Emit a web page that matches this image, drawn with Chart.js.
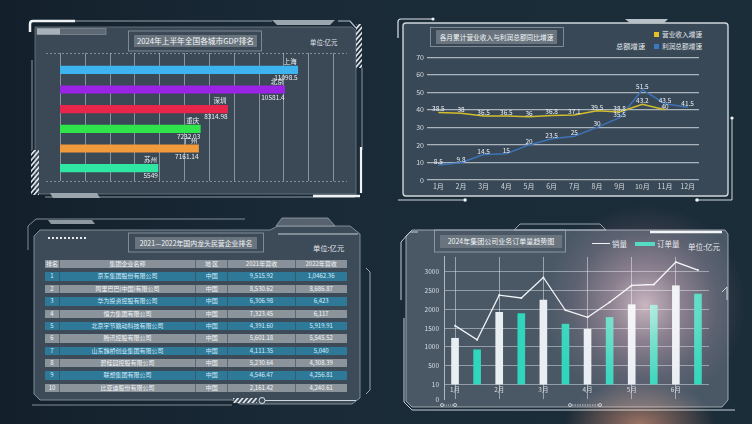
<!DOCTYPE html>
<html>
<head>
<meta charset="utf-8">
<script src="https://cdn.jsdelivr.net/npm/chart.js@4.4.1/dist/chart.umd.min.js"></script>
<style>
  html, body { margin: 0; padding: 0; }
  body {
    width: 752px; height: 424px; overflow: hidden; position: relative;
    background: linear-gradient(90deg, #13202b 0%, #1a2a37 40%, #1c2d3a 100%);
    font-family: "Noto Sans CJK SC", "Noto Sans", sans-serif; color: #e6ecf0;
  }
  .abs { position: absolute; }
  canvas { position: absolute; }
  .title { position: absolute; background: #69747e; color: #f3f6f8; text-align: center; white-space: nowrap; }
  .txt { position: absolute; white-space: nowrap; color: #e3e8ec; }
  .row { position: absolute; left: 45px; width: 302px; display: flex; font-size: 6px; }
  .row div { box-sizing: border-box; text-align: center; border-right: 1px solid rgba(55,70,84,0.55); overflow: hidden; white-space: nowrap; }
  .row div:last-child { border-right: none; }
  #glow {
    position: absolute; left: 0; top: 0; width: 752px; height: 424px; pointer-events: none; mix-blend-mode: screen;
    background:
      radial-gradient(circle at 645px 305px, rgba(255,205,215,0.7) 0px, rgba(220,145,165,0.42) 36px, rgba(170,95,115,0.16) 72px, rgba(0,0,0,0) 100px),
      radial-gradient(ellipse 75px 42px at 640px 424px, rgba(220,130,85,0.65), rgba(0,0,0,0));
  }
</style>
</head>
<body>

<svg class="abs" width="752" height="424" style="left:0;top:0">
  <defs>
    <pattern id="hatch" width="3.5" height="3.5" patternUnits="userSpaceOnUse" patternTransform="rotate(40)">
      <rect width="1.6" height="3.5" fill="#e9eef2"/>
    </pattern>
  </defs>

  <!-- panel 1 frame -->
  <polygon points="35,27 352,27 356,31 356,194 40,194 35,189" fill="#3b4956" stroke="#6f7c87" stroke-width="0.8"/>
  <path d="M30,32 L30,24 Q30,21 33,21 L75,21" stroke="#eef2f5" stroke-width="2.5" fill="none"/>
  <line x1="75" y1="21" x2="272" y2="21" stroke="#9aa5ae" stroke-width="1"/>
  <polygon points="272,20 277,25 330,25 335,20" fill="#9ba5ae"/>
  <path d="M338,21 L350,21 L356,28" stroke="#b7c0c8" stroke-width="1.2" fill="none"/>
  <rect x="356" y="24" width="6" height="44" fill="url(#hatch)"/>
  <line x1="362" y1="68" x2="362" y2="150" stroke="#8e99a3" stroke-width="1"/>
  <line x1="361" y1="147" x2="361" y2="193" stroke="#f0f3f5" stroke-width="2.2"/>
  <line x1="45" y1="197" x2="355" y2="197" stroke="#8e99a3" stroke-width="1"/>
  <line x1="313" y1="196" x2="360" y2="196" stroke="#f0f3f5" stroke-width="2.5"/>
  <polygon points="50,193 97,193 100,198 53,198" fill="#9ba5ae"/>
  <rect x="31" y="150" width="8" height="45" fill="url(#hatch)"/>
  <line x1="32" y1="60" x2="32" y2="150" stroke="#8e99a3" stroke-width="1"/>
  <rect x="37" y="28.5" width="69" height="6" fill="#5d6873" stroke="#8e99a3" stroke-width="0.6"/>
  <rect x="37" y="28.5" width="23" height="6" fill="#a8b1b9"/>
  <rect x="128.5" y="31" width="133" height="20" fill="none" stroke="#8f9aa4" stroke-width="0.8"/>

  <!-- panel 2 frame -->
  <rect x="403" y="23" width="325" height="173" rx="3" fill="#394856" stroke="#cfd6dc" stroke-width="1.4"/>
  <path d="M398,38 L398,22 Q398,19 401,19 L432,19" stroke="#dfe5ea" stroke-width="1.2" fill="none"/>
  <circle cx="433" cy="19" r="1.6" fill="#eef2f5"/>
  <polygon points="625,19 630,23 664,23 668,19" fill="#b8c1c8"/>
  <line x1="398" y1="200" x2="463" y2="200" stroke="#cfd6dc" stroke-width="1"/>
  <circle cx="465" cy="200" r="1.8" fill="#f3f6f8"/>
  <line x1="697" y1="200" x2="732" y2="200" stroke="#cfd6dc" stroke-width="1"/>
  <circle cx="697" cy="200" r="1.8" fill="#f3f6f8"/>
  <line x1="732" y1="118" x2="732" y2="200" stroke="#cfd6dc" stroke-width="1"/>
  <circle cx="732" cy="118" r="1.6" fill="#f3f6f8"/>
  <rect x="430.5" y="27.5" width="133" height="19" fill="none" stroke="#8f9aa4" stroke-width="0.8"/>

  <!-- panel 3 frame -->
  <polygon points="40,230 270,230 278,226 350,226 360,234 360,398 352,404 240,404 232,400 40,400 34,394 34,236" fill="#3d4b58" stroke="#8b96a0" stroke-width="0.9"/>
  <polygon points="48,220 92,220 95,224 51,224" fill="#8d98a1"/>
  <path d="M28,250 L28,226 L36,219 L245,219" stroke="#8e99a3" stroke-width="0.9" fill="none"/>
  <polygon points="282,218 328,218 335,226 276,226" fill="#56626d" stroke="#9aa5ae" stroke-width="0.8"/>
  <line x1="278" y1="234" x2="358" y2="234" stroke="#d4dbe0" stroke-width="0.9"/>
  <path d="M366,268 L370,272 L370,390 L366,394" stroke="#9aa5ae" stroke-width="1" fill="none"/>
  <line x1="32" y1="405" x2="232" y2="405" stroke="#8e99a3" stroke-width="0.9"/>
  <rect x="233" y="398" width="24" height="5" fill="url(#hatch)"/>
  <circle cx="262" cy="400.5" r="3" fill="none" stroke="#dfe5ea" stroke-width="1"/>
  <line x1="265" y1="400.5" x2="356" y2="400.5" stroke="#cfd6dc" stroke-width="1"/>
  <g fill="#e6ebef">
    <rect x="48" y="237" width="2" height="2"/><rect x="52" y="237" width="2" height="2"/><rect x="56" y="237" width="2" height="2"/>
    <rect x="60" y="237" width="2" height="2"/><rect x="64" y="237" width="2" height="2"/><rect x="68" y="237" width="2" height="2"/>
    <rect x="72" y="237" width="2" height="2"/><rect x="76" y="237" width="2" height="2"/><rect x="80" y="237" width="2" height="2"/>
    <rect x="84" y="237" width="2" height="2"/>
  </g>
  <rect x="128.5" y="233" width="135" height="19" fill="none" stroke="#8f9aa4" stroke-width="0.8"/>

  <!-- panel 4 frame -->
  <polygon points="412,230 725,230 728,234 728,400 722,407 412,407 406,401 406,236" fill="#4a5866" stroke="#a9b3bb" stroke-width="0.9"/>
  <path d="M401,300 L401,242 L410,232 L418,232" stroke="#c6ced5" stroke-width="1" fill="none"/>
  <path d="M404,318 L404,402 L412,410 L735,410" stroke="#c6ced5" stroke-width="1" fill="none"/>
  <line x1="650" y1="232" x2="722" y2="232" stroke="#f2f5f7" stroke-width="2.4"/>
  <polygon points="520,224 600,224 606,230 514,230" fill="none" stroke="#b9c2c9" stroke-width="0.8"/>
  <g fill="none" stroke="#dfe5ea" stroke-width="0.8">
    <circle cx="442" cy="405" r="1.5"/><circle cx="455" cy="405" r="1.5"/>
    <circle cx="570" cy="405" r="1.5"/><circle cx="600" cy="405" r="1.5"/>
  </g>
  <line x1="444" y1="405" x2="453" y2="405" stroke="#dfe5ea" stroke-width="0.8" stroke-dasharray="1,1"/>
  <line x1="572" y1="405" x2="598" y2="405" stroke="#dfe5ea" stroke-width="0.8" stroke-dasharray="1.5,1"/>
  <path d="M722,292 L727,287 L727,300" stroke="#c6ced5" stroke-width="1" fill="none"/>
  <rect x="434.5" y="230" width="131" height="22" fill="none" stroke="#9aa5ae" stroke-width="0.8"/>
</svg>

<!-- titles and units -->
<div class="title" style="left:134px;top:35px;width:123px;height:12px;font-size:7.7px;line-height:12px;">2024年上半年全国各城市GDP排名</div>
<div class="txt" style="left:310px;top:38px;font-size:6.4px;line-height:9px;">单位:亿元</div>

<div class="title" style="left:436px;top:30px;width:121px;height:14px;font-size:6.7px;line-height:14px;">各月累计营业收入与利润总额同比增速</div>
<div class="abs" style="left:654px;top:31.5px;width:5px;height:5px;background:#e2c22b;"></div>
<div class="txt" style="left:662px;top:29.5px;font-size:6.7px;line-height:9px;">营业收入增速</div>
<div class="txt" style="left:616px;top:41.5px;font-size:7.3px;line-height:9px;">总额增速</div>
<div class="abs" style="left:654px;top:43.5px;width:5px;height:5px;background:#3a78c4;"></div>
<div class="txt" style="left:662px;top:41.5px;font-size:6.7px;line-height:9px;">利润总额增速</div>

<div class="title" style="left:135px;top:236.5px;width:122px;height:12.5px;font-size:6.9px;line-height:12.5px;">2021—2022年国内龙头民营企业排名</div>
<div class="txt" style="left:313px;top:243px;font-size:7.3px;line-height:10px;">单位:亿元</div>

<div class="title" style="left:440px;top:235px;width:122px;height:13px;font-size:7px;line-height:13px;">2024年集团公司业务订单量趋势图</div>
<div class="abs" style="left:592px;top:242.5px;width:18px;height:1.6px;background:#f0f3f5;"></div>
<div class="txt" style="left:612px;top:238.5px;font-size:7.5px;line-height:10px;">销量</div>
<div class="abs" style="left:635px;top:241.5px;width:20px;height:4px;background:#2fd6bc;"></div>
<div class="txt" style="left:657px;top:238.5px;font-size:7.5px;line-height:10px;">订单量</div>
<div class="txt" style="left:688px;top:241.5px;font-size:7.5px;line-height:10px;">单位:亿元</div>

<div id="table"></div>

<canvas id="gdp" width="320" height="145" style="left:36px;top:45px;"></canvas>
<canvas id="growth" width="320" height="146" style="left:405px;top:50px;"></canvas>
<canvas id="orders" width="305" height="160" style="left:410px;top:248px;"></canvas>

<div id="glow"></div>

<script>
// ---------- data ----------
const gdpCities = ['上海', '北京', '深圳', '重庆', '广州', '苏州'];
const gdpValues = [11098.5, 10581.4, 8314.98, 7232.03, 7161.14, 5549];
const gdpColors = ['#3db4ef', '#9a23e6', '#e8264c', '#30e44c', '#f19a3c', '#2fe6a2'];

const growthMonths = ['1月', '2月', '3月', '4月', '5月', '6月', '7月', '8月', '9月', '10月', '11月', '12月'];
const revenueGrowth = [38.5, 38, 36.5, 36.5, 36, 36.8, 37.1, 39.5, 38.8, 43.2, 40, null];
const profitGrowth = [8.5, 9.8, 14.5, 15, 20, 23.5, 25, 30, 35.5, 51.5, 43.5, 41.5];

const tableHeader = ['排名', '集团企业名称', '地 区', '2021年营收', '2022年营收'];
const rankNo = ['1', '2', '3', '4', '5', '6', '7', '8', '9', '10'];
const companyNames = ['京东集团股份有限公司', '阿里巴巴(中国)有限公司', '华为投资控股有限公司', '恒力集团有限公司',
  '北京字节跳动科技有限公司', '腾讯控股有限公司', '山东魏桥创业集团有限公司', '碧桂园控股有限公司',
  '联想集团有限公司', '比亚迪股份有限公司'];
const regions = ['中国', '中国', '中国', '中国', '中国', '中国', '中国', '中国', '中国', '中国'];
const revenue2021 = ['9,515.92', '8,530.62', '6,306.98', '7,323.45', '4,391.60', '5,601.18', '4,111.35', '5,230.64', '4,546.47', '2,161.42'];
const revenue2022 = ['1,0462.36', '8,686.87', '6,423', '6,117', '5,919.91', '5,545.52', '5,040', '4,308.39', '4,256.81', '4,240.61'];

const orderMonths = ['1月', '2月', '3月', '4月', '5月', '6月'];
const salesBars = [1230, 1918, 2242, 1469, 2122, 2625];
const orderBars = [923, 1885, 1605, 1783, 2107, 2403];
const salesLine = [1565, 1189, 2376, 2299, 2844, 1974, 1788, 2187, 2632, 2657, 3253, 3041];
const orderTicks = [-385, 0, 500, 1000, 1500, 2000, 2500, 3000];
const orderTickLabels = ['0', '10', '500', '1000', '1500', '2000', '2500', '3000'];

const FONT = '"Noto Sans CJK SC", "Noto Sans", sans-serif';
Chart.defaults.font.family = FONT;
Chart.defaults.animation = false;
Chart.defaults.responsive = false;
Chart.defaults.plugins.legend.display = false;
Chart.defaults.plugins.tooltip.enabled = false;

// ---------- table ----------
(function buildTable() {
  const box = document.getElementById('table');
  const widths = [15, 136, 32.3, 67.4, 51];
  function addRow(cells, top, bg, color) {
    const row = document.createElement('div');
    row.className = 'row';
    row.style.top = top + 'px';
    row.style.height = '8.5px';
    row.style.lineHeight = '8.5px';
    row.style.background = bg;
    row.style.color = color;
    cells.forEach((c, i) => {
      const d = document.createElement('div');
      d.style.width = widths[i] + 'px';
      d.textContent = c;
      row.appendChild(d);
    });
    box.appendChild(row);
  }
  addRow(tableHeader, 259.8, '#88919a', '#f1f4f6');
  rankNo.forEach((r, i) => {
    const teal = i % 2 === 0;
    addRow([r, companyNames[i], regions[i], revenue2021[i], revenue2022[i]],
      272.4 + i * 12.37, teal ? '#2e7898' : '#8b949b', teal ? '#d6eefa' : '#f4f6f8');
  });
})();

// ---------- chart 1 : GDP ranking ----------
const gdpDecor = {
  id: 'gdpDecor',
  beforeDatasetsDraw(chart) {
    const { ctx, chartArea: a, scales: { x } } = chart;
    ctx.save();
    ctx.strokeStyle = 'rgba(200,208,216,0.55)';
    ctx.lineWidth = 1;
    for (let i = 0; i <= 11; i++) {
      const px = Math.round(x.getPixelForValue(x.min + i * (x.max - x.min) / 11)) + 0.5;
      ctx.beginPath(); ctx.moveTo(px, a.top - 7); ctx.lineTo(px, a.bottom + 3); ctx.stroke();
    }
    ctx.setLineDash([2, 2]);
    ctx.strokeStyle = 'rgba(200,208,216,0.5)';
    [a.top - 7, a.bottom + 3].forEach(py => {
      ctx.beginPath(); ctx.moveTo(a.left - 14, py + 0.5); ctx.lineTo(a.right + 14, py + 0.5); ctx.stroke();
    });
    ctx.restore();
  },
  afterDatasetsDraw(chart) {
    const { ctx } = chart;
    ctx.save();
    ctx.font = '6.5px ' + FONT;
    ctx.fillStyle = '#eef2f5';
    ctx.textAlign = 'right';
    ctx.textBaseline = 'middle';
    chart.getDatasetMeta(0).data.forEach((bar, i) => {
      ctx.fillText(gdpCities[i], bar.x - 1, bar.y - 8.3);
      ctx.fillText(String(gdpValues[i]), bar.x, bar.y + 7.7);
    });
    ctx.restore();
  }
};

new Chart(document.getElementById('gdp'), {
  type: 'bar',
  data: {
    labels: gdpCities,
    datasets: [{ data: gdpValues, backgroundColor: gdpColors, barThickness: 7.5 }]
  },
  options: {
    indexAxis: 'y',
    layout: { padding: { left: 24, right: 23, top: 15, bottom: 12 } },
    scales: {
      x: { display: false, min: 1660, max: 12500 },
      y: { display: false }
    }
  },
  plugins: [gdpDecor]
});

// ---------- chart 2 : monthly growth ----------
const pointLabels = {
  id: 'pointLabels',
  afterDatasetsDraw(chart) {
    const { ctx } = chart;
    ctx.save();
    ctx.font = '6.5px ' + FONT;
    ctx.fillStyle = '#eef2f5';
    ctx.textAlign = 'center';
    ctx.textBaseline = 'middle';
    chart.data.datasets.forEach((ds, di) => {
      chart.getDatasetMeta(di).data.forEach((pt, i) => {
        if (ds.data[i] == null) return;
        ctx.fillText(String(ds.data[i]), pt.x, pt.y - 3.5);
      });
    });
    ctx.restore();
  }
};

new Chart(document.getElementById('growth'), {
  type: 'line',
  data: {
    labels: growthMonths,
    datasets: [
      { label: '营业收入增速', data: revenueGrowth, borderColor: '#d2bd2c', borderWidth: 1.5, pointRadius: 0, tension: 0 },
      { label: '利润总额增速', data: profitGrowth, borderColor: '#3e73b8', borderWidth: 1.5, pointRadius: 0, tension: 0 }
    ]
  },
  options: {
    layout: { padding: { left: 0, right: 26, top: 7, bottom: 0 } },
    scales: {
      x: {
        offset: true,
        grid: { display: false, drawTicks: false },
        border: { display: false },
        ticks: { color: '#d5dbe0', font: { size: 7 }, padding: 2, maxRotation: 0, autoSkip: false },
        afterFit: s => { s.height = 16; }
      },
      y: {
        min: 0, max: 70,
        ticks: { stepSize: 10, color: '#d5dbe0', font: { size: 7 }, padding: 3 },
        grid: { color: 'rgba(215,222,228,0.72)', lineWidth: 1.2, drawTicks: false },
        border: { display: false },
        afterFit: s => { s.width = 22; }
      }
    }
  },
  plugins: [pointLabels]
});

// ---------- chart 4 : orders trend ----------
const slotLabels = orderMonths.flatMap(m => [m, '']);

new Chart(document.getElementById('orders'), {
  data: {
    labels: slotLabels,
    datasets: [
      { type: 'line', label: '销量', data: salesLine, borderColor: '#eef2f5', borderWidth: 1.3,
        pointRadius: 1, pointBackgroundColor: '#eef2f5', pointBorderWidth: 0, tension: 0, order: 0 },
      { type: 'bar', data: salesBars.flatMap(v => [v, null]), backgroundColor: '#e9eef2', barThickness: 7, grouped: false, order: 1 },
      { type: 'bar', label: '订单量', data: orderBars.flatMap(v => [null, v]), backgroundColor: '#2fd6bc', barThickness: 7, grouped: false, order: 1 }
    ]
  },
  options: {
    layout: { padding: { left: 0, right: 6, top: 6, bottom: 6 } },
    scales: {
      x: {
        type: 'category',
        position: { y: 0 },
        offset: true,
        grid: {
          offset: false, drawTicks: false,
          color: c => (c.index % 2 === 0 ? 'rgba(220,226,232,0.55)' : 'rgba(0,0,0,0)')
        },
        border: { display: false },
        ticks: { color: '#d8dee3', font: { size: 6.5 }, padding: 1, maxRotation: 0, autoSkip: false }
      },
      y: {
        min: -385, max: 3390,
        afterBuildTicks: s => { s.ticks = orderTicks.map(v => ({ value: v })); },
        ticks: {
          color: '#d8dee3', font: { size: 6.5 }, padding: 5,
          callback: (v, i) => orderTickLabels[i]
        },
        grid: {
          drawTicks: false, lineWidth: 1,
          color: c => (c.tick && c.tick.value < 0 ? 'rgba(0,0,0,0)' : 'rgba(220,226,232,0.5)')
        },
        border: { display: true, color: 'rgba(220,226,232,0.7)' },
        afterFit: s => { s.width = 34; }
      }
    }
  }
});
</script>
</body>
</html>
